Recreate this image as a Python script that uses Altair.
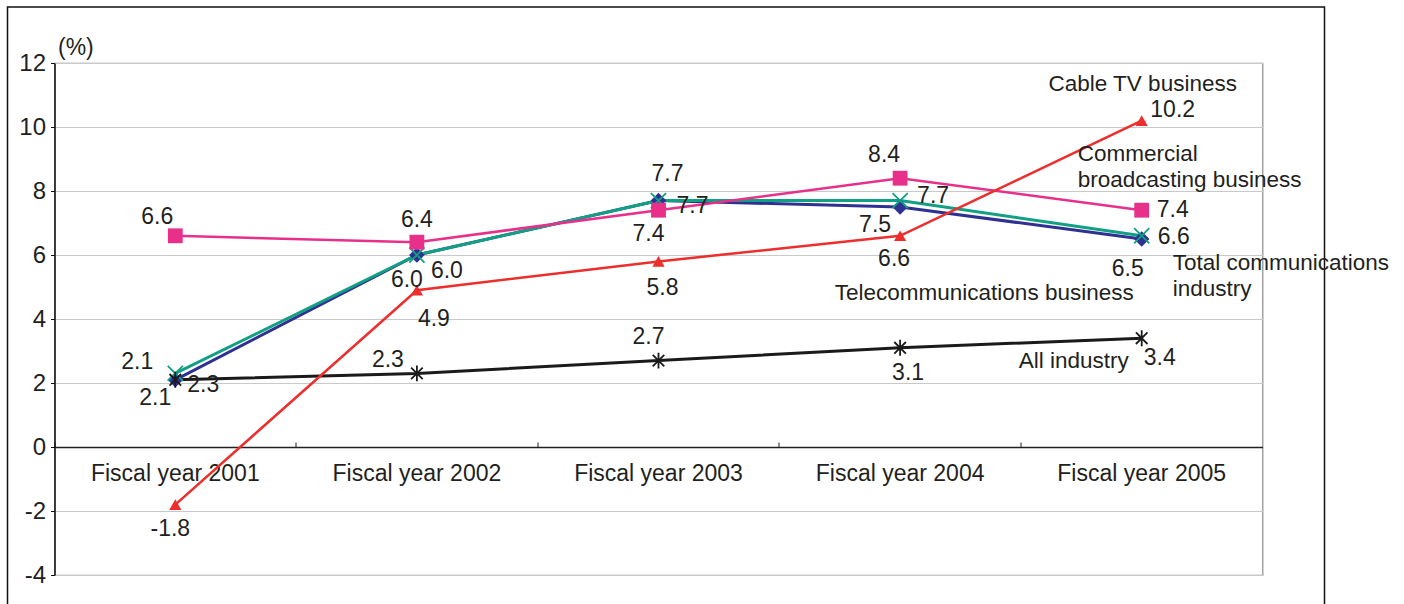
import altair as alt
import pandas as pd

# ---------------- data ----------------
years = ["Fiscal year 2001", "Fiscal year 2002", "Fiscal year 2003",
         "Fiscal year 2004", "Fiscal year 2005"]
commercial = [6.6, 6.4, 7.4, 8.4, 7.4]
cable_tv = [-1.8, 4.9, 5.8, 6.6, 10.2]
total_comm = [2.3, 6.0, 7.7, 7.7, 6.6]
telecom = [2.1, 6.0, 7.7, 7.5, 6.5]
all_industry = [2.1, 2.3, 2.7, 3.1, 3.4]
y_ticks = [-4, -2, 0, 2, 4, 6, 8, 10, 12]

# ---------------- styling ----------------
FONT = "Liberation Sans"
TXT = "#231f20"
W, H = 1208, 512
X_PATH = "M-1,-1L1,1M-1,1L1,-1"
AST_PATH = "M-0.8,-0.8L0.8,0.8M-0.8,0.8L0.8,-0.8M0,-1.1L0,1.1"

series = [
    dict(name="Telecommunications business", values=telecom, color="#2e3192",
         shape="diamond", size=240, filled=True, sw=3,
         offs=[(-20, 18), (-10, 25), (9, -27), (-25, 18), (-14, 30)],
         nm_off=(-8, 54), nm_align="right"),
    dict(name="Total communications\nindustry", values=total_comm, color="#12a085",
         shape=X_PATH, size=230, filled=False, sw=3,
         offs=[(28, 12), (30, 16), (34, 5), (33, -5), (32, 1)],
         nm_off=(31, 27), nm_align="left"),
    dict(name="Commercial\nbroadcasting business", values=commercial, color="#e8308a",
         shape="square", size=220, filled=True, sw=2.5,
         offs=[(-18, -19), (0, -22), (-10, 24), (-16, -23), (31, 0)],
         nm_off=(-64, -56), nm_align="left"),
    dict(name="All industry", values=all_industry, color="#1a1a1a",
         shape=AST_PATH, size=210, filled=False, sw=3,
         offs=[(-38, -18), (-29, -13), (-10, -24), (8, 25), (18, 20)],
         nm_off=(-13, 23), nm_align="right"),
    dict(name="Cable TV business", values=cable_tv, color="#ee2d2d",
         shape="triangle-up", size=150, filled=True, sw=2.5,
         offs=[(-5, 24), (17, 29), (4, 27), (-6, 23), (31, -11)],
         nm_off=(1, -37), nm_align="center"),
]

x_scale = alt.Scale(type="band", domain=years, paddingInner=0, paddingOuter=0)
y_scale = alt.Scale(domain=[-4, 12], nice=False, zero=False)

layers = []

# outer frame
frame = alt.Chart(pd.DataFrame({"a": [0]})).mark_rect(
    fillOpacity=0, stroke="#111111", strokeWidth=1.5
).encode(x=alt.value(-47), x2=alt.value(1270), y=alt.value(-56), y2=alt.value(620))
layers.append(frame)

# axis layers
axis_df = pd.DataFrame({"year": years, "value": [0] * 5})
y_axis_layer = alt.Chart(axis_df).mark_point(opacity=0).encode(
    x=alt.X("year:N", scale=x_scale, sort=years, axis=None),
    y=alt.Y("value:Q", scale=y_scale,
            axis=alt.Axis(values=y_ticks, labelExpr="'' + datum.value",
                          title="(%)", titleAngle=0, titleAlign="left",
                          titleBaseline="middle", titleX=3, titleY=-16,
                          titleFontSize=23, titleFontWeight="normal", titleColor=TXT,
                          titleFont=FONT,
                          labelFontSize=24, labelColor=TXT, labelFont=FONT,
                          labelPadding=5, tickSize=4, tickColor="#111111",
                          domainColor="#111111", domainWidth=1.5,
                          grid=True, gridColor="#c9c9c9", gridWidth=1)),
)
top_axis_layer = alt.Chart(axis_df).mark_point(opacity=0).encode(
    x=alt.X("year:N", scale=x_scale, sort=years,
            axis=alt.Axis(orient="top", offset=-384, labels=False, title=None,
                          domainColor="#222222", domainWidth=1.5,
                          ticks=True, tickSize=5, tickColor="#222222", tickWidth=1,
                          bandPosition=0, grid=False)),
    y=alt.Y("value:Q", scale=y_scale, axis=None),
)
bottom_axis_layer = alt.Chart(axis_df).mark_point(opacity=0).encode(
    x=alt.X("year:N", scale=x_scale, sort=years,
            axis=alt.Axis(orient="bottom", offset=-128, domain=False, ticks=False,
                          title=None, labelAngle=0, labelFontSize=23, labelColor=TXT,
                          labelFont=FONT, labelPadding=15, grid=False)),
    y=alt.Y("value:Q", scale=y_scale, axis=None),
)
layers += [y_axis_layer, top_axis_layer, bottom_axis_layer]

X_NOAX = dict(scale=x_scale, sort=years, axis=None)

# lines
for s in series:
    df = pd.DataFrame({"year": years, "value": s["values"]})
    layers.append(
        alt.Chart(df).mark_line(color=s["color"], strokeWidth=s["sw"]).encode(
            x=alt.X("year:N", **X_NOAX),
            y=alt.Y("value:Q", scale=y_scale, axis=None),
        )
    )

# markers
for s in series:
    df = pd.DataFrame({"year": years, "value": s["values"]})
    if s["filled"]:
        mk = alt.Chart(df).mark_point(shape=s["shape"], size=s["size"], filled=True,
                                      color=s["color"], opacity=1)
    else:
        mk = alt.Chart(df).mark_point(shape=s["shape"], size=s["size"], filled=False,
                                      stroke=s["color"], strokeWidth=1.8, opacity=1)
    layers.append(mk.encode(
        x=alt.X("year:N", **X_NOAX),
        y=alt.Y("value:Q", scale=y_scale, axis=None),
    ))

# value labels
for s in series:
    for i, yr in enumerate(years):
        v = s["values"][i]
        dx, dy = s["offs"][i]
        df = pd.DataFrame({"year": [yr], "value": [v], "label": [f"{v:.1f}"]})
        layers.append(
            alt.Chart(df).mark_text(dx=dx, dy=dy, fontSize=23, font=FONT, color=TXT,
                                    align="center", baseline="middle").encode(
                x=alt.X("year:N", **X_NOAX),
                y=alt.Y("value:Q", scale=y_scale, axis=None),
                text="label:N",
            )
        )

# series names
for s in series:
    df = pd.DataFrame({"year": [years[-1]], "value": [s["values"][-1]], "label": [s["name"]]})
    dx, dy = s["nm_off"]
    layers.append(
        alt.Chart(df).mark_text(dx=dx, dy=dy, fontSize=22.5, font=FONT, color=TXT,
                                align=s["nm_align"], baseline="middle",
                                lineBreak="\n", lineHeight=26).encode(
            x=alt.X("year:N", **X_NOAX),
            y=alt.Y("value:Q", scale=y_scale, axis=None),
            text="label:N",
        )
    )

chart = alt.layer(*layers).resolve_axis(x="independent", y="independent").properties(
    width=W, height=H,
    autosize="none",
    padding={"left": 54.5, "top": 63, "right": 141.5, "bottom": 29},
).configure(font=FONT).configure_view(stroke="#8c8c8c", strokeWidth=1.2)

chart.save("out.html", embed_options={"renderer": "svg", "actions": False})
